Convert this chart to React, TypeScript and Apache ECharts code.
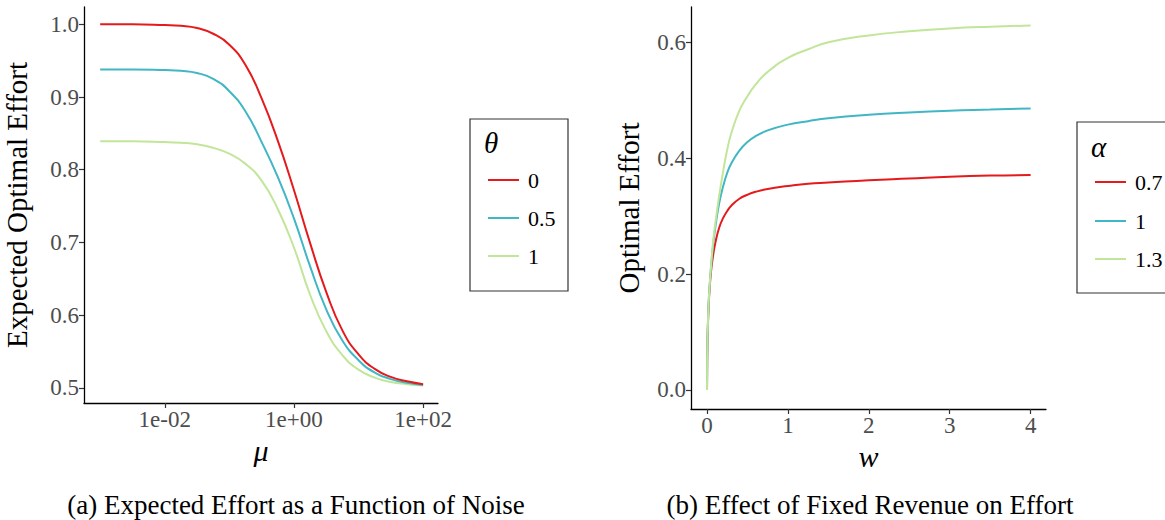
import React, { useEffect, useRef } from "react";
import * as echarts from "echarts";

// ---- Panel (a): Expected optimal effort vs noise mu (log scale) ----
const mu = [0.001, 0.00316, 0.01, 0.0178, 0.0316, 0.0562, 0.1, 0.178, 0.316, 0.562, 1, 1.78, 3.16, 5.62, 10, 17.8, 31.6, 56.2, 100];
const effortTheta0 = [1.0, 1.0, 0.999, 0.998, 0.995, 0.987, 0.972, 0.944, 0.898, 0.84, 0.772, 0.699, 0.632, 0.579, 0.546, 0.526, 0.515, 0.509, 0.505];
const effortTheta05 = [0.938, 0.938, 0.937, 0.936, 0.933, 0.925, 0.908, 0.88, 0.838, 0.79, 0.733, 0.667, 0.608, 0.565, 0.538, 0.521, 0.512, 0.507, 0.504];
const effortTheta1 = [0.839, 0.839, 0.838, 0.837, 0.835, 0.83, 0.822, 0.808, 0.785, 0.746, 0.693, 0.628, 0.578, 0.545, 0.525, 0.514, 0.508, 0.505, 0.503];
const thetaLabels = ["0", "0.5", "1"];
const muTicks = [0.01, 1, 100];
const effortTicksA = [0.5, 0.6, 0.7, 0.8, 0.9, 1.0];

// ---- Panel (b): Optimal effort vs fixed revenue w ----
const w = [0, 0.002, 0.005, 0.01, 0.02, 0.03, 0.05, 0.075, 0.1, 0.15, 0.2, 0.25, 0.3, 0.4, 0.5, 0.6, 0.75, 1, 1.25, 1.5, 2, 2.5, 3, 3.5, 4];
const effortAlpha07 = [0, 0.045, 0.075, 0.105, 0.145, 0.17, 0.205, 0.232, 0.252, 0.28, 0.297, 0.309, 0.318, 0.33, 0.337, 0.342, 0.347, 0.352, 0.356, 0.358, 0.362, 0.365, 0.368, 0.37, 0.371];
const effortAlpha1 = [0, 0.05, 0.08, 0.11, 0.15, 0.175, 0.213, 0.25, 0.278, 0.322, 0.352, 0.375, 0.391, 0.413, 0.428, 0.438, 0.448, 0.458, 0.464, 0.469, 0.475, 0.479, 0.482, 0.484, 0.486];
const effortAlpha13 = [0, 0.05, 0.08, 0.11, 0.15, 0.175, 0.215, 0.255, 0.285, 0.335, 0.378, 0.415, 0.443, 0.482, 0.507, 0.527, 0.549, 0.573, 0.588, 0.6, 0.612, 0.619, 0.624, 0.627, 0.629];
const alphaLabels = ["0.7", "1", "1.3"];
const wTicks = [0, 1, 2, 3, 4];
const effortTicksB = [0.0, 0.2, 0.4, 0.6];

const colors = ["#E41A1C", "#41B6C4", "#C2E699"];
const SERIF = "'Liberation Serif', 'DejaVu Serif', serif";

function sciLabel(v: number): string {
  const e = Math.round(Math.log10(v));
  return "1e" + (e < 0 ? "-" : "+") + String(Math.abs(e)).padStart(2, "0");
}

function pairs(xs: number[], ys: number[]) {
  return xs.map((x, i) => [x, ys[i]]);
}

function legendGraphic(x: number, y: number, width: number, height: number, title: string, labels: string[], lineX: number, textX: number, titleX: number, titleY: number, rowY: number[]) {
  const els: any[] = [
    {
      type: "rect",
      shape: { x, y, width, height },
      style: { fill: "#fff", stroke: "#333", lineWidth: 1.2 },
    },
    {
      type: "text",
      x: titleX,
      y: titleY,
      style: { text: title, font: `italic 29px ${SERIF}`, fill: "#000", textAlign: "left", textVerticalAlign: "middle" },
    },
  ];
  labels.forEach((lab, i) => {
    els.push({
      type: "line",
      shape: { x1: lineX, y1: rowY[i], x2: lineX + 31, y2: rowY[i] },
      style: { stroke: colors[i], lineWidth: 2 },
    });
    els.push({
      type: "text",
      x: textX,
      y: rowY[i],
      style: { text: lab, font: `22px ${SERIF}`, fill: "#000", textAlign: "left", textVerticalAlign: "middle" },
    });
  });
  return els;
}

export default function App() {
  const ref = useRef<HTMLDivElement>(null);
  useEffect(() => {
    const chart = echarts.init(ref.current!, null, { renderer: "svg" });
    const axisCommon = {
      axisLine: { show: true, onZero: false, lineStyle: { color: "#000", width: 1.3 } },
      axisTick: { show: true, length: 5, lineStyle: { color: "#333", width: 1.2 } },
      splitLine: { show: false },
    };
    const labelStyle = { color: "#4D4D4D", fontFamily: SERIF, fontSize: 23, margin: 5 };
    const option: any = {
      animation: false,
      backgroundColor: "#fff",
      grid: [
        { left: 84, top: 7, width: 354, height: 396, containLabel: false },
        { left: 691, top: 7, width: 355, height: 402, containLabel: false },
      ],
      xAxis: [
        {
          type: "log",
          logBase: 10,
          gridIndex: 0,
          min: 0.000562,
          max: 170,
          ...axisCommon,
          axisTick: { ...axisCommon.axisTick, customValues: muTicks },
          axisLabel: { ...labelStyle, customValues: muTicks, formatter: (v: number) => sciLabel(v) },
          name: "μ",
          nameLocation: "middle",
          nameGap: 30,
          nameTextStyle: { fontFamily: SERIF, fontStyle: "italic", fontSize: 30, color: "#000" },
        },
        {
          type: "value",
          gridIndex: 1,
          min: -0.198,
          max: 4.19,
          ...axisCommon,
          axisTick: { ...axisCommon.axisTick, customValues: wTicks },
          axisLabel: { ...labelStyle, customValues: wTicks, formatter: (v: number) => String(v) },
          name: "w",
          nameLocation: "middle",
          nameGap: 28,
          nameTextStyle: { fontFamily: SERIF, fontStyle: "italic", fontSize: 30, color: "#000" },
        },
      ],
      yAxis: [
        {
          type: "value",
          gridIndex: 0,
          min: 0.4791,
          max: 1.0238,
          ...axisCommon,
          axisTick: { ...axisCommon.axisTick, customValues: effortTicksA },
          axisLabel: { ...labelStyle, customValues: effortTicksA, formatter: (v: number) => v.toFixed(1) },
          name: "Expected Optimal Effort",
          nameLocation: "middle",
          nameGap: 53,
          nameRotate: 90,
          nameTextStyle: { fontFamily: SERIF, fontSize: 29, color: "#000" },
        },
        {
          type: "value",
          gridIndex: 1,
          min: -0.0328,
          max: 0.661,
          ...axisCommon,
          axisTick: { ...axisCommon.axisTick, customValues: effortTicksB },
          axisLabel: { ...labelStyle, customValues: effortTicksB, formatter: (v: number) => v.toFixed(1) },
          name: "Optimal Effort",
          nameLocation: "middle",
          nameGap: 48,
          nameRotate: 90,
          nameTextStyle: { fontFamily: SERIF, fontSize: 29, color: "#000" },
        },
      ],
      series: [
        ...[effortTheta0, effortTheta05, effortTheta1].map((ys, i) => ({
          type: "line",
          name: "θ=" + thetaLabels[i],
          xAxisIndex: 0,
          yAxisIndex: 0,
          data: pairs(mu, ys),
          showSymbol: false,
          smooth: 0.5,
          lineStyle: { color: colors[i], width: 2 },
          itemStyle: { color: colors[i] },
          z: 3 - i,
        })),
        ...[effortAlpha07, effortAlpha1, effortAlpha13].map((ys, i) => ({
          type: "line",
          name: "α=" + alphaLabels[i],
          xAxisIndex: 1,
          yAxisIndex: 1,
          data: pairs(w, ys),
          showSymbol: false,
          smooth: 0.5,
          lineStyle: { color: colors[i], width: 2 },
          itemStyle: { color: colors[i] },
          z: 3 + i,
        })),
      ],
      graphic: [
        ...legendGraphic(470, 119, 98, 172, "θ", thetaLabels, 488, 528, 484, 143, [180, 218, 256]),
        ...legendGraphic(1077, 122, 100, 171, "α", alphaLabels, 1095, 1135, 1091, 147, [182, 221, 259]),
        {
          type: "text",
          x: 296,
          y: 505,
          style: { text: "(a) Expected Effort as a Function of Noise", font: `27px ${SERIF}`, fill: "#000", textAlign: "center", textVerticalAlign: "middle" },
        },
        {
          type: "text",
          x: 870,
          y: 505,
          style: { text: "(b) Effect of Fixed Revenue on Effort", font: `27px ${SERIF}`, fill: "#000", textAlign: "center", textVerticalAlign: "middle" },
        },
      ],
    };
    chart.setOption(option);
    return () => chart.dispose();
  }, []);
  return <div ref={ref} style={{ position: "absolute", left: 0, top: 0, width: 1165, height: 520 }} />;
}
